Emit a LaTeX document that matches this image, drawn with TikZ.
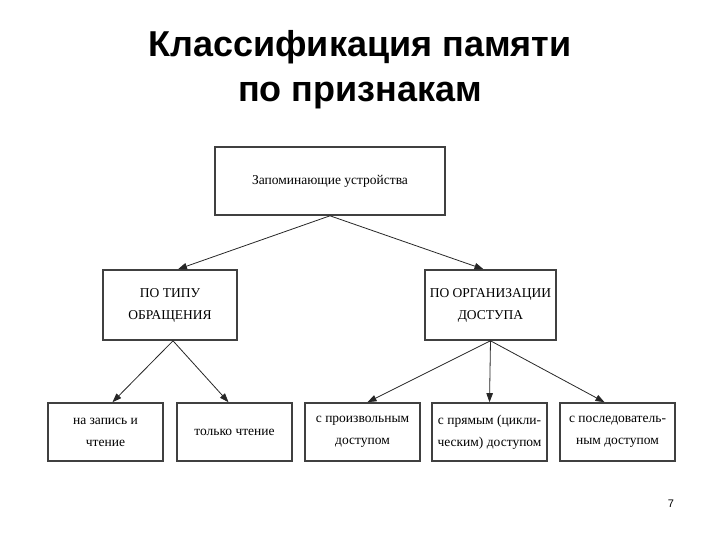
\documentclass[tikz,border=0pt]{standalone}
\usepackage{fontspec}
\setmainfont{Liberation Serif}
\newfontfamily\titlefont{Liberation Sans}
\usetikzlibrary{arrows.meta,calc}
\begin{document}
\begin{tikzpicture}[x=1pt,y=1pt,
  box/.style={draw=black!75, line width=1.6pt, fill=white, align=center,
    font=\fontsize{13.5}{22}\selectfont, inner sep=1pt},
  conn/.style={draw=black!85, line width=0.8pt, -{Triangle[length=9pt,width=6.5pt]}}]
\useasboundingbox (0,0) rectangle (720,-540);
\node[font=\titlefont\bfseries\fontsize{36}{45}\selectfont, align=center] (title) at (360,-70) {Классификация памяти\\по признакам};
\node[box, minimum width=230, minimum height=68] (top) at (330,-181) {Запоминающие устройства};
\node[box, minimum width=134, minimum height=70] (t1) at (170,-305) {ПО ТИПУ\\ОБРАЩЕНИЯ};
\node[box, minimum width=131, minimum height=70] (t2) at (490.5,-305) {ПО ОРГАНИЗАЦИИ\\ДОСТУПА};
\node[box, minimum width=115, minimum height=58] (b1) at (105.5,-432) {на запись и\\чтение};
\node[box, minimum width=115, minimum height=58] (b2) at (234.5,-432) {только чтение};
\node[box, minimum width=115, minimum height=58] (b3) at (362.5,-432) {с произвольным\\доступом};
\node[box, minimum width=115, minimum height=58] (b4) at (489.5,-432) {с прямым (цикли-\\ческим) доступом};
\node[box, minimum width=115, minimum height=58] (b5) at (617.5,-432) {с последователь-\\ным доступом};
\node[font=\titlefont\fontsize{11}{13}\selectfont] (pg) at (671,-504) {7};
\draw[conn] (top.south) -- ($(t1.north)+(8,0)$);
\draw[conn] (top.south) -- ($(t2.north)+(-7,0)$);
\draw[conn] ($(t1.south)+(3,0)$) -- ($(b1.north)+(7,0)$);
\draw[conn] ($(t1.south)+(3,0)$) -- ($(b2.north)+(-6,0)$);
\draw[conn] (t2.south) -- ($(b3.north)+(5,0)$);
\draw[conn] (t2.south) -- (b4.north);
\draw[conn] (t2.south) -- ($(b5.north)+(-13,0)$);
\end{tikzpicture}
\end{document}
